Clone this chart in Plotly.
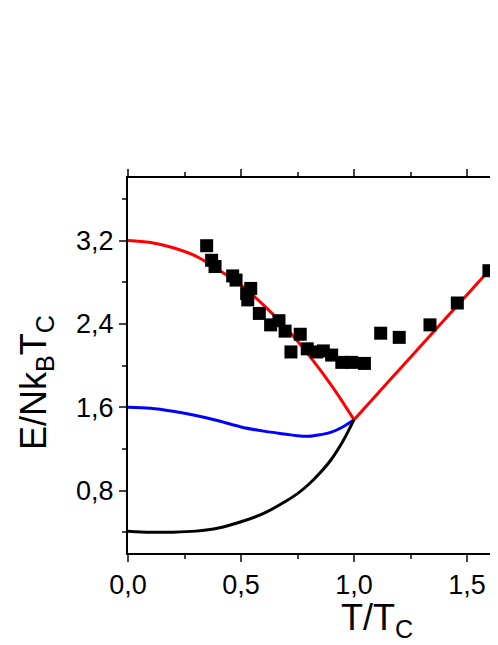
import plotly.graph_objects as go

# Experimental points (squares)
exp_t = [0.348, 0.37, 0.385, 0.463, 0.478, 0.525, 0.53, 0.543, 0.581, 0.631,
         0.668, 0.695, 0.721, 0.762, 0.793, 0.835, 0.864, 0.901, 0.946, 0.99,
         1.046, 1.118, 1.20, 1.336, 1.457, 1.597]
exp_e = [3.15, 3.01, 2.95, 2.86, 2.82, 2.69, 2.63, 2.74, 2.50, 2.39,
         2.43, 2.33, 2.13, 2.30, 2.16, 2.13, 2.14, 2.10, 2.03, 2.03,
         2.02, 2.31, 2.27, 2.39, 2.60, 2.91]

# Red curve, below and above Tc
red_lo_t = [0, 0.1, 0.2, 0.3, 0.4, 0.5, 0.6, 0.7, 0.8, 0.9, 1.0]
red_lo_e = [3.2, 3.18, 3.13, 3.05, 2.92, 2.77, 2.58, 2.36, 2.10, 1.81, 1.48]
red_hi_t = [1.0, 1.05, 1.1, 1.2, 1.3, 1.4, 1.5, 1.6, 1.7]
red_hi_e = [1.48, 1.60, 1.72, 1.96, 2.20, 2.44, 2.68, 2.92, 3.16]

# Blue curve
blue_t = [0, 0.1, 0.2, 0.3, 0.4, 0.5, 0.6, 0.7, 0.75, 0.8, 0.85, 0.9, 0.95, 1.0]
blue_e = [1.6, 1.59, 1.56, 1.52, 1.47, 1.41, 1.37, 1.34, 1.325, 1.32, 1.335, 1.36, 1.41, 1.48]

# Black curve
black_t = [0, 0.1, 0.2, 0.3, 0.4, 0.5, 0.6, 0.7, 0.75, 0.8, 0.85, 0.9, 0.95, 1.0]
black_e = [0.41, 0.40, 0.40, 0.41, 0.44, 0.50, 0.58, 0.70, 0.77, 0.86, 0.97, 1.10, 1.27, 1.48]

FONT = 'Liberation Sans, Arial, sans-serif'

# page pixel -> paper coords (page body has an 8px margin)
def px(x):
    return (x - 128) / 370.0

def py(y):
    return (553 - y) / 375.0

fig = go.Figure()

for t, e, c in [(red_lo_t, red_lo_e, '#ff0000'),
                (red_hi_t, red_hi_e, '#ff0000'),
                (blue_t, blue_e, '#0000ff'),
                (black_t, black_e, '#000000')]:
    fig.add_trace(go.Scatter(x=t, y=e, mode='lines',
                             line=dict(color=c, width=3, shape='spline'),
                             showlegend=False))

fig.add_trace(go.Scatter(x=exp_t, y=exp_e, mode='markers',
                         marker=dict(symbol='square', size=13, color='black'),
                         showlegend=False))

# Axis titles
fig.add_annotation(text='E/Nk<sub>B</sub>T<sub>C</sub>', x=px(36), y=py(383),
                   xref='paper', yref='paper', showarrow=False,
                   xanchor='center', yanchor='middle',
                   textangle=-90, font=dict(size=36, family=FONT, color='black'))
fig.add_annotation(text='T/T<sub>C</sub>', x=px(377), y=py(620),
                   xref='paper', yref='paper', showarrow=False,
                   xanchor='center', yanchor='middle',
                   font=dict(size=36, family=FONT, color='black'))

fig.update_xaxes(range=[0, 1.637], tickvals=[0, 0.5, 1.0, 1.5], tickformat='.1f',
                 ticks='outside', ticklen=7, tickwidth=2, showline=True,
                 linewidth=2, linecolor='black', mirror='ticks', showgrid=False,
                 zeroline=False, tickfont=dict(size=27, family=FONT, color='black'),
                 minor=dict(dtick=0.25, tick0=0, ticks='outside', ticklen=4, tickwidth=2))
fig.update_yaxes(range=[0.2, 3.8], tickvals=[0.8, 1.6, 2.4, 3.2], tickformat='.1f',
                 ticks='outside', ticklen=7, tickwidth=2, showline=True,
                 linewidth=2, linecolor='black', showgrid=False, zeroline=False,
                 tickfont=dict(size=27, family=FONT, color='black'),
                 minor=dict(dtick=0.4, tick0=0, ticks='outside', ticklen=4, tickwidth=2))

fig.update_layout(width=498, height=637, separators=',.',
                  margin=dict(l=120, r=8, t=170, b=92),
                  plot_bgcolor='white', paper_bgcolor='white')

fig.write_html("out.html")
